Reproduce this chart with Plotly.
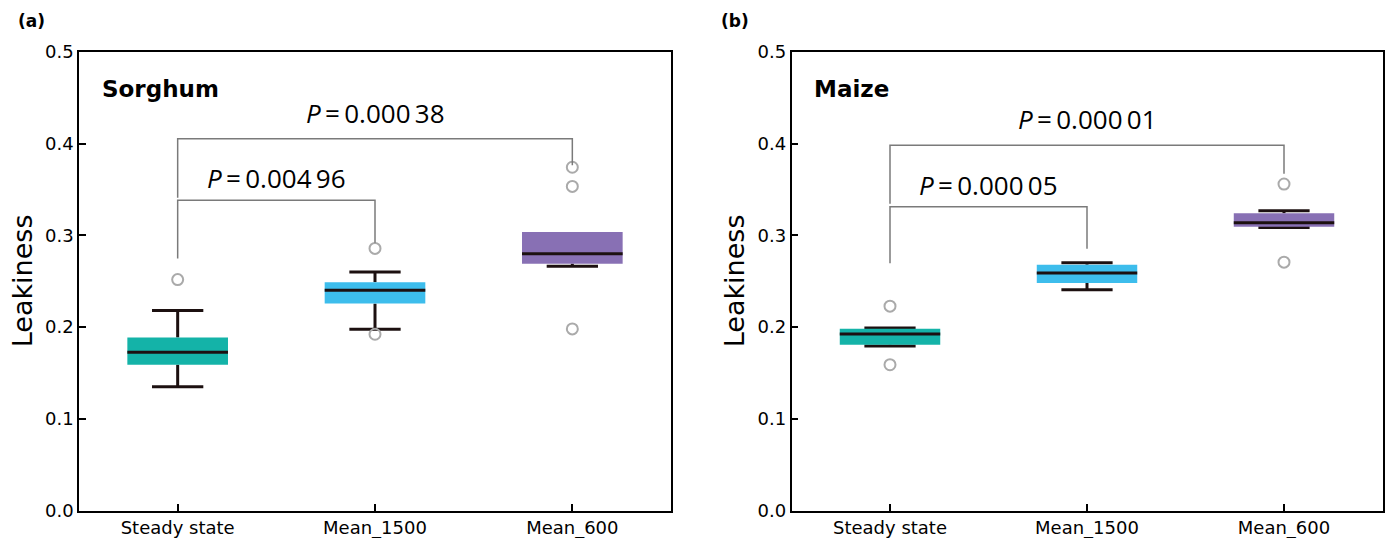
import plotly.graph_objects as go

# ---------------- data ----------------
categories = ["Steady state", "Mean_1500", "Mean_600"]
positions = [1, 2, 3]
colors = ["#14B3A8", "#3DBDEC", "#8870B4"]

# Sorghum (panel a)
sorghum_low = [0.1349, 0.1976, 0.2663]
sorghum_q1 = [0.1590, 0.2256, 0.2692]
sorghum_med = [0.1727, 0.2402, 0.2801]
sorghum_q3 = [0.1887, 0.2490, 0.3037]
sorghum_high = [0.2180, 0.2600, 0.3000]
sorghum_out_pos = [1, 2, 2, 3, 3, 3]
sorghum_out_val = [0.2518, 0.2858, 0.1922, 0.3743, 0.3534, 0.1980]

# Maize (panel b)
maize_low = [0.1793, 0.2406, 0.3085]
maize_q1 = [0.1808, 0.2482, 0.3093]
maize_med = [0.1924, 0.2591, 0.3137]
maize_q3 = [0.1982, 0.2681, 0.3242]
maize_high = [0.1990, 0.2703, 0.3268]
maize_out_pos = [1, 1, 3, 3]
maize_out_val = [0.2228, 0.1590, 0.3560, 0.2708]

# significance brackets: (from, to, bar level, left foot, right foot, label, label level)
sorghum_brackets = [
    (1, 2, 0.3382, 0.2749, 0.2920, "0.004\u200996", 0.3626),
    (1, 3, 0.4055, 0.3410, 0.3766, "0.000\u200938", 0.4335),
]
maize_brackets = [
    (1, 2, 0.3313, 0.2696, 0.2855, "0.000\u200905", 0.3553),
    (1, 3, 0.3982, 0.3345, 0.3672, "0.000\u200901", 0.4269),
]

yticks = [0.0, 0.1, 0.2, 0.3, 0.4, 0.5]
ytick_text = ["0.0", "0.1", "0.2", "0.3", "0.4", "0.5"]

BOX_W = 0.51
CAP_HW = 0.13
MED_HW = BOX_W / 2
DARK = "#1C1010"

fig = go.Figure()


def add_panel(xa, ya, low, q1, med, q3, high, out_pos, out_val, brackets):
    xref = "x" if xa == "x" else "x2"
    yref = "y" if ya == "y" else "y2"
    # whiskers and caps (drawn first, behind the boxes)
    wx, wy = [], []
    for p, lo, a, b, hi in zip(positions, low, q1, q3, high):
        wx += [p, p, None, p, p, None]
        wy += [a, lo, None, b, hi, None]
        wx += [p - CAP_HW, p + CAP_HW, None, p - CAP_HW, p + CAP_HW, None]
        wy += [lo, lo, None, hi, hi, None]
    fig.add_trace(go.Scatter(x=wx, y=wy, mode="lines", xaxis=xref, yaxis=yref,
                             line=dict(color=DARK, width=3), showlegend=False,
                             hoverinfo="skip"))
    # boxes (filled rectangles from q1 to q3)
    for p, a, b, c in zip(positions, q1, q3, colors):
        hw = BOX_W / 2
        fig.add_trace(go.Scatter(x=[p - hw, p + hw, p + hw, p - hw, p - hw],
                                 y=[a, a, b, b, a], mode="lines", fill="toself",
                                 fillcolor=c, line=dict(width=0, color=c),
                                 xaxis=xref, yaxis=yref, showlegend=False,
                                 hoverinfo="skip"))
    # medians
    mx, my = [], []
    for p, m in zip(positions, med):
        mx += [p - MED_HW, p + MED_HW, None]
        my += [m, m, None]
    fig.add_trace(go.Scatter(x=mx, y=my, mode="lines", xaxis=xref, yaxis=yref,
                             line=dict(color=DARK, width=3), showlegend=False,
                             hoverinfo="skip"))
    # outliers
    fig.add_trace(go.Scatter(x=out_pos, y=out_val, mode="markers", xaxis=xref, yaxis=yref,
                             marker=dict(symbol="circle-open", size=11,
                                         color="#AAAAAA", line=dict(width=2)),
                             showlegend=False))
    # brackets
    bx, by = [], []
    for (a, b, lvl, fl, fr, lab, tl) in brackets:
        bx += [a, a, b, b, None]
        by += [fl, lvl, lvl, fr, None]
        fig.add_annotation(x=(a + b) / 2, y=tl, xref=xref, yref=yref,
                           text="<i>P</i>\u2009=\u2009" + lab, showarrow=False,
                           font=dict(family="Open Sans", size=26, color="black"),
                           xanchor="center", yanchor="middle")
    fig.add_trace(go.Scatter(x=bx, y=by, mode="lines", xaxis=xref, yaxis=yref,
                             line=dict(color="#7A7A7A", width=1.5), showlegend=False,
                             hoverinfo="skip"))


add_panel("x", "y", sorghum_low, sorghum_q1, sorghum_med, sorghum_q3, sorghum_high,
          sorghum_out_pos, sorghum_out_val, sorghum_brackets)
add_panel("x2", "y2", maize_low, maize_q1, maize_med, maize_q3, maize_high,
          maize_out_pos, maize_out_val, maize_brackets)

W, H = 1390, 538
ydom = [27.5 / H, 486 / H]

axis_common = dict(showline=True, mirror=True, linecolor="black", linewidth=1.5,
                   ticks="inside", ticklen=7, tickwidth=1.5, tickcolor="black",
                   showgrid=False, zeroline=False, automargin=False,
                   tickfont=dict(family="DejaVu Sans", size=18, color="black"))

fig.update_layout(
    width=W, height=H, margin=dict(l=0, r=0, t=0, b=0, autoexpand=False),
    paper_bgcolor="white", plot_bgcolor="white",
    xaxis=dict(domain=[79 / W, 671 / W], range=[0.5, 3.5], tickvals=positions,
               ticktext=categories, anchor="y", **axis_common),
    yaxis=dict(domain=ydom, range=[0, 0.5], tickvals=yticks, ticktext=ytick_text,
               anchor="x", **axis_common),
    xaxis2=dict(domain=[791.5 / W, 1382.5 / W], range=[0.5, 3.5], tickvals=positions,
                ticktext=categories, anchor="y2", **axis_common),
    yaxis2=dict(domain=ydom, range=[0, 0.5], tickvals=yticks, ticktext=ytick_text,
                anchor="x2", **axis_common),
)

# panel letters, crop labels, y titles
for letter, px in [("(a)", 31), ("(b)", 735)]:
    fig.add_annotation(x=px / W, y=1 - 21 / H, xref="paper", yref="paper",
                       text="<b>" + letter + "</b>", showarrow=False,
                       font=dict(family="DejaVu Sans", size=17, color="black"),
                       xanchor="center", yanchor="middle")
for name, xr, yr in [("Sorghum", "x domain", "y domain"), ("Maize", "x2 domain", "y2 domain")]:
    fig.add_annotation(x=0.0355, y=0.919, xref=xr, yref=yr, text="<b>" + name + "</b>",
                       showarrow=False, xanchor="left", yanchor="middle",
                       font=dict(family="DejaVu Sans", size=23, color="black"))
for px in [22, 734]:
    fig.add_annotation(x=px / W, y=(ydom[0] + ydom[1]) / 2, xref="paper", yref="paper",
                       text="Leakiness", textangle=-90, showarrow=False,
                       xanchor="center", yanchor="middle",
                       font=dict(family="DejaVu Sans", size=27, color="black"))

fig.write_html("out.html")
